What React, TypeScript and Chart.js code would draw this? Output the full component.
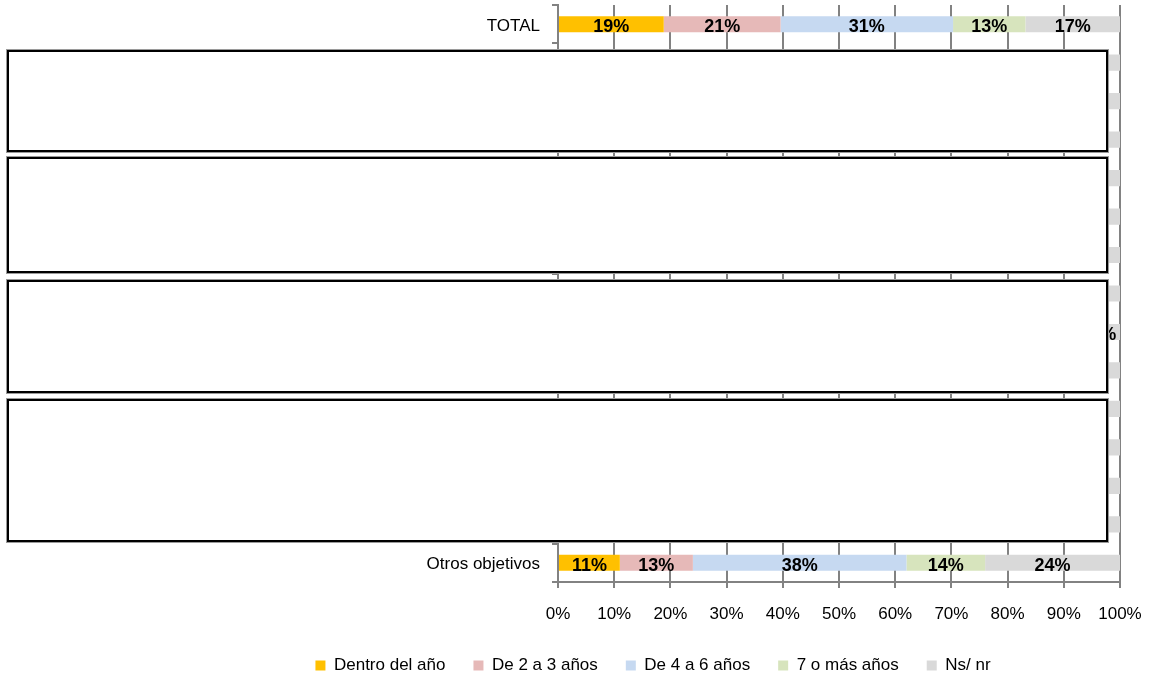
import React, { useEffect, useRef } from "react";
import { Chart, registerables } from "chart.js";

Chart.register(...registerables);

// ---- data ----
const categories = [
  "TOTAL",
  "", "", "",
  "", "", "",
  "", "", "",
  "", "", "", "",
  "Otros objetivos",
];
const seriesNames = ["Dentro del año", "De 2 a 3 años", "De 4 a 6 años", "7 o más años", "Ns/ nr"];
const dentroDelAno = [19, 22, 18, 3, 20, 17, 25, 21, 24, 16, 19, 15, 20, 14, 11];
const de2a3Anos = [21, 24, 20, 15, 22, 19, 30, 23, 26, 20, 21, 22, 18, 20, 13];
const de4a6Anos = [31, 28, 33, 50, 30, 34, 18, 29, 30, 33, 31, 32, 30, 35, 38];
const sieteOMasAnos = [13, 11, 14, 21, 12, 13, 7, 12, 14, 14, 12, 15, 14, 13, 14];
const nsNr = [17, 15, 15, 11, 16, 17, 20, 15, 6, 17, 17, 16, 18, 18, 24];
const xTickLabels = ["0%", "10%", "20%", "30%", "40%", "50%", "60%", "70%", "80%", "90%", "100%"];

const seriesValues = [dentroDelAno, de2a3Anos, de4a6Anos, sieteOMasAnos, nsNr];
const seriesColors = ["#FFC000", "#E6B9B8", "#C6D9F1", "#D7E4BD", "#D9D9D9"];

// redaction boxes covering parts of the original picture (page coords)
const boxes = [
  { left: 7, top: 50, width: 1101, height: 102 },
  { left: 7, top: 157, width: 1101, height: 116 },
  { left: 7, top: 280, width: 1101, height: 113 },
  { left: 7, top: 399, width: 1101, height: 143 },
];

const FONT = "'Liberation Sans', Arial, sans-serif";
const GRID = "#828282";

const rowSums = categories.map((_, i) => seriesValues.reduce((s, arr) => s + arr[i], 0));

const segmentLabels = {
  id: "segmentLabels",
  afterDatasetsDraw(chart: any) {
    const ctx = chart.ctx;
    ctx.save();
    ctx.font = `bold 18px ${FONT}`;
    ctx.fillStyle = "#000";
    ctx.textAlign = "center";
    ctx.textBaseline = "middle";
    chart.data.datasets.forEach((ds: any, di: number) => {
      const meta = chart.getDatasetMeta(di);
      meta.data.forEach((bar: any, i: number) => {
        const raw = seriesValues[di][i];
        const cx = (bar.x + bar.base) / 2;
        ctx.fillText(raw + "%", cx, bar.y + 3);
      });
    });
    ctx.restore();
  },
};

export default function App() {
  const canvasRef = useRef<HTMLCanvasElement | null>(null);

  useEffect(() => {
    if (!canvasRef.current) return;
    const chart = new Chart(canvasRef.current, {
      type: "bar",
      data: {
        labels: categories,
        datasets: seriesNames.map((name, di) => ({
          label: name,
          data: seriesValues[di].map((v, i) => (v / rowSums[i]) * 100),
          backgroundColor: seriesColors[di],
          borderWidth: 0,
          barPercentage: 0.42,
          categoryPercentage: 1,
        })),
      },
      options: {
        indexAxis: "y",
        responsive: false,
        animation: false,
        events: [],
        layout: { padding: { top: 5, right: 34, left: 0, bottom: 0 } },
        scales: {
          x: {
            stacked: true,
            min: 0,
            max: 100,
            ticks: {
              stepSize: 10,
              color: "#000",
              padding: 16,
              font: { family: FONT, size: 17 },
              callback: (_v: any, idx: number) => xTickLabels[idx],
            },
            grid: { color: GRID, lineWidth: 2, tickLength: 6, drawOnChartArea: true },
            border: { display: true, color: GRID, width: 2 },
            afterFit: (scale: any) => {
              scale.height = 47;
              scale.paddingLeft = 0;
              scale.paddingRight = 0;
            },
          },
          y: {
            stacked: true,
            ticks: {
              color: "#000",
              padding: 12,
              labelOffset: 2,
              font: { family: FONT, size: 17 },
              autoSkip: false,
            },
            grid: { color: GRID, lineWidth: 2, tickLength: 6, drawOnChartArea: false, offset: true },
            border: { display: true, color: GRID, width: 2 },
            afterFit: (scale: any) => {
              scale.width = 372;
              scale.paddingTop = 0;
              scale.paddingBottom = 0;
            },
          },
        },
        plugins: {
          tooltip: { enabled: false },
          legend: {
            position: "bottom",
            labels: {
              boxWidth: 10,
              boxHeight: 10,
              padding: 28,
              color: "#000",
              font: { family: FONT, size: 17 },
            },
          },
        },
      },
      plugins: [segmentLabels],
    } as any);
    return () => chart.destroy();
  }, []);

  return (
    <div
      style={{
        position: "fixed",
        left: 0,
        top: 0,
        width: 1154,
        height: 676,
        overflow: "hidden",
        background: "#fff",
      }}
    >
      <div style={{ position: "absolute", left: 186, top: 0, width: 968, height: 684 }}>
        <canvas ref={canvasRef} width={968} height={684} style={{ width: 968, height: 684, display: "block" }} />
      </div>
      {boxes.map((b, i) => (
        <div
          key={i}
          style={{
            position: "absolute",
            left: b.left,
            top: b.top,
            width: b.width,
            height: b.height,
            boxSizing: "border-box",
            border: "2px solid #000",
            background: "#fff",
            boxShadow: "0 0 0 1px #9a9a9a",
          }}
        />
      ))}
    </div>
  );
}
